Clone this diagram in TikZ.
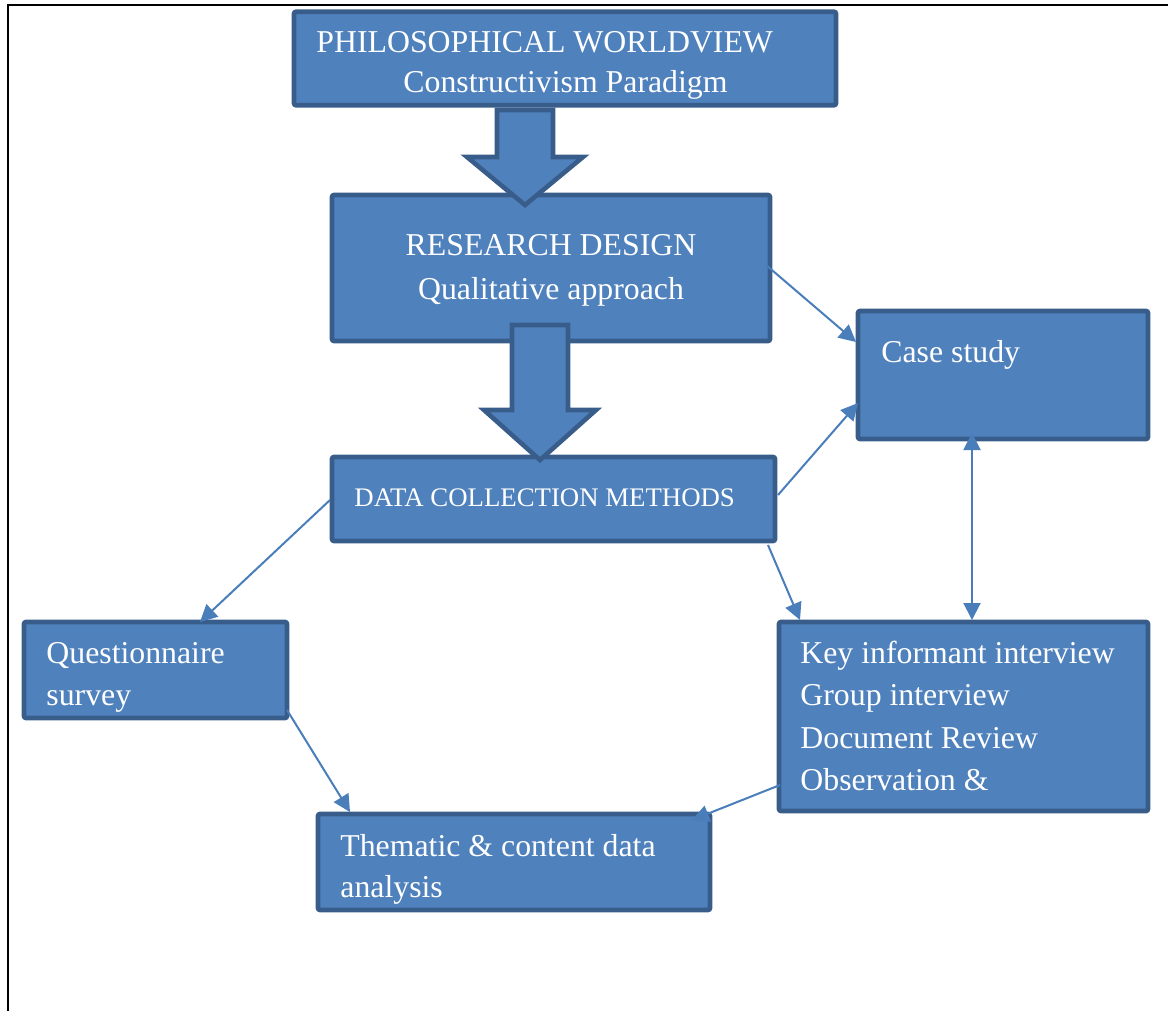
\documentclass[tikz,border=0pt]{standalone}
\usepackage{fontspec}
\setmainfont{Liberation Serif}
\usetikzlibrary{arrows.meta}
\definecolor{boxfill}{HTML}{4F81BD}
\definecolor{boxline}{HTML}{385D8A}
\definecolor{conn}{HTML}{4A7EBB}
\begin{document}
\begin{tikzpicture}[x=0.5pt,y=-0.5pt,
  box/.style={draw=boxline,fill=boxfill,line width=2.3pt,rounded corners=1pt,inner sep=0pt},
  lbl/.style={text=white,font=\fontsize{15.9}{18}\selectfont,inner sep=0pt,anchor=base west},
  clbl/.style={text=white,font=\fontsize{15.9}{18}\selectfont,inner sep=0pt,anchor=base},
  slbl/.style={text=white,font=\fontsize{13.4}{15}\selectfont,inner sep=0pt,anchor=base west},
  blockarrow/.style={draw=boxline,fill=boxfill,line width=2.3pt,line join=miter},
  conline/.style={draw=conn,line width=1pt,-{Triangle[length=8.5pt,width=8.5pt]}},
  conboth/.style={draw=conn,line width=1pt,{Triangle[length=8.5pt,width=8.5pt]}-{Triangle[length=8.5pt,width=8.5pt]}}
]
\useasboundingbox (0,0) rectangle (1168,1011);
\draw[line width=1pt] (8,1011) -- (8,5) -- (1168,5);

% boxes
\node[box,minimum width=271pt,minimum height=46.75pt] (pw) at (565,58.5) {};
\node[box,minimum width=219pt,minimum height=73pt] (rd) at (551,268) {};
\node[box,minimum width=221.5pt,minimum height=42pt] (dc) at (553.5,499) {};
\node[box,minimum width=145pt,minimum height=64pt] (cs) at (1003,375) {};
\node[box,minimum width=131.5pt,minimum height=48pt] (qs) at (155.5,670) {};
\node[box,minimum width=184.5pt,minimum height=94.5pt] (ki) at (963.5,716.5) {};
\node[box,minimum width=196pt,minimum height=48pt] (ta) at (514,862) {};

% block arrows
\draw[blockarrow] (497,110) -- (553,110) -- (553,157) -- (583,157) -- (525,205) -- (467,157) -- (497,157) -- cycle;
\draw[blockarrow] (512,325) -- (568,325) -- (568,410) -- (596,410) -- (540,460) -- (484,410) -- (512,410) -- cycle;

% texts
\node[lbl] (pw1) at (316,53) {PHILOSOPHICAL WORLDVIEW};
\node[lbl] (pw2) at (403,93) {Constructivism Paradigm};
\node[clbl] (rd1) at (551,256) {RESEARCH DESIGN};
\node[clbl] (rd2) at (551,299) {Qualitative approach};
\node[slbl] (dc1) at (354,506) {DATA COLLECTION METHODS};
\node[lbl] (cs1) at (881,362) {Case study};
\node[lbl] (qs1) at (46,663) {Questionnaire};
\node[lbl] (qs2) at (46,705) {survey};
\node[lbl] (ki1) at (800,663) {Key informant interview};
\node[lbl] (ki2) at (800,705) {Group interview};
\node[lbl] (ki3) at (800,748) {Document Review};
\node[lbl] (ki4) at (800,790) {Observation \&};
\node[lbl] (ta1) at (340,856) {Thematic \& content data};
\node[lbl] (ta2) at (340,897) {analysis};

% connector end points
\coordinate (a1) at (766,265); \coordinate (b1) at (856,342);
\coordinate (a2) at (778,495); \coordinate (b2) at (858,403);
\coordinate (a3) at (330,500); \coordinate (b3) at (200,622);
\coordinate (a4) at (768,545); \coordinate (b4) at (800,620);
\coordinate (a5) at (972,433); \coordinate (b5) at (972,620);
\coordinate (a6) at (287,710); \coordinate (b6) at (350,812);
\coordinate (a7) at (780,785); \coordinate (b7) at (692,820);

\draw[conline] (a1) -- (b1);
\draw[conline] (a2) -- (b2);
\draw[conline] (a3) -- (b3);
\draw[conline] (a4) -- (b4);
\draw[conboth] (a5) -- (b5);
\draw[conline] (a6) -- (b6);
\draw[conline] (a7) -- (b7);
\end{tikzpicture}
\end{document}
